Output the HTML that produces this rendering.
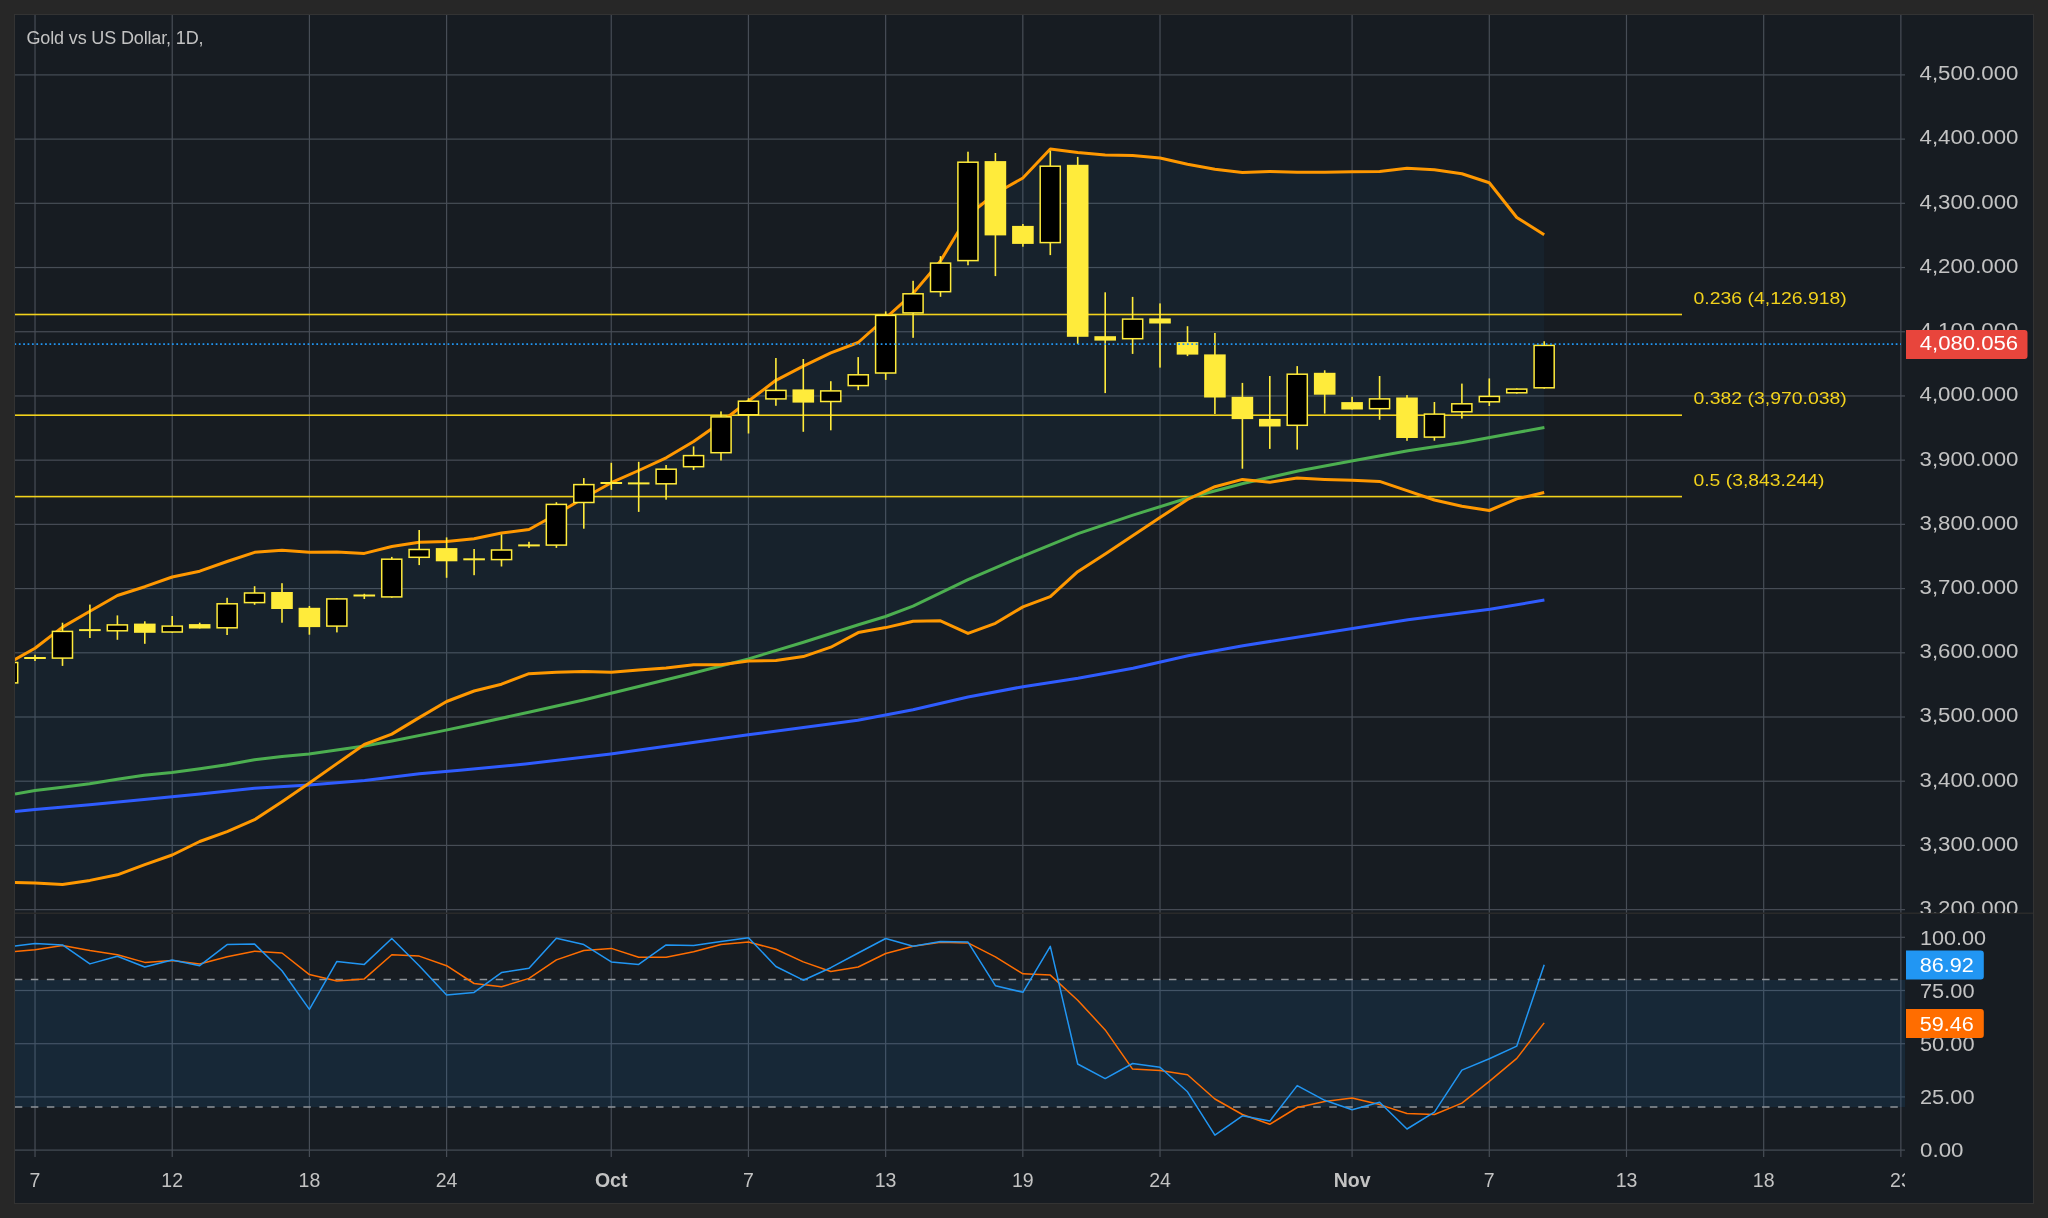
<!DOCTYPE html><html><head><meta charset="utf-8"><title>Gold vs US Dollar</title><style>
html,body{margin:0;padding:0;background:#272727;width:2048px;height:1218px;overflow:hidden}
svg{display:block;will-change:transform}
text{font-family:"Liberation Sans",sans-serif}
</style></head><body>
<svg width="2048" height="1218" viewBox="0 0 2048 1218">
<defs>
<clipPath id="p1"><rect x="15" y="14" width="1886" height="899"/></clipPath>
<clipPath id="p2"><rect x="15" y="914" width="1886" height="236"/></clipPath>
<clipPath id="pax1"><rect x="1901" y="14" width="132" height="899"/></clipPath>
<clipPath id="tax"><rect x="15" y="1150" width="1890" height="53"/></clipPath>
</defs>
<rect x="14" y="14" width="2020" height="1190" fill="#333333"/>
<rect x="15" y="15" width="2018" height="1188" fill="#171c22"/>
<g fill="#474d56">
<rect x="34.42" y="15" width="1.2" height="898"/>
<rect x="34.42" y="914" width="1.2" height="243"/>
<rect x="171.62" y="15" width="1.2" height="898"/>
<rect x="171.62" y="914" width="1.2" height="243"/>
<rect x="308.81" y="15" width="1.2" height="898"/>
<rect x="308.81" y="914" width="1.2" height="243"/>
<rect x="446.00" y="15" width="1.2" height="898"/>
<rect x="446.00" y="914" width="1.2" height="243"/>
<rect x="610.64" y="15" width="1.2" height="898"/>
<rect x="610.64" y="914" width="1.2" height="243"/>
<rect x="747.83" y="15" width="1.2" height="898"/>
<rect x="747.83" y="914" width="1.2" height="243"/>
<rect x="885.03" y="15" width="1.2" height="898"/>
<rect x="885.03" y="914" width="1.2" height="243"/>
<rect x="1022.22" y="15" width="1.2" height="898"/>
<rect x="1022.22" y="914" width="1.2" height="243"/>
<rect x="1159.42" y="15" width="1.2" height="898"/>
<rect x="1159.42" y="914" width="1.2" height="243"/>
<rect x="1351.49" y="15" width="1.2" height="898"/>
<rect x="1351.49" y="914" width="1.2" height="243"/>
<rect x="1488.69" y="15" width="1.2" height="898"/>
<rect x="1488.69" y="914" width="1.2" height="243"/>
<rect x="1625.88" y="15" width="1.2" height="898"/>
<rect x="1625.88" y="914" width="1.2" height="243"/>
<rect x="1763.08" y="15" width="1.2" height="898"/>
<rect x="1763.08" y="914" width="1.2" height="243"/>
<rect x="1900.27" y="15" width="1.2" height="898"/>
<rect x="1900.27" y="914" width="1.2" height="243"/>
<rect x="15" y="74.30" width="1890" height="1.2"/>
<rect x="15" y="138.51" width="1890" height="1.2"/>
<rect x="15" y="202.72" width="1890" height="1.2"/>
<rect x="15" y="266.93" width="1890" height="1.2"/>
<rect x="15" y="331.14" width="1890" height="1.2"/>
<rect x="15" y="395.35" width="1890" height="1.2"/>
<rect x="15" y="459.56" width="1890" height="1.2"/>
<rect x="15" y="523.77" width="1890" height="1.2"/>
<rect x="15" y="587.98" width="1890" height="1.2"/>
<rect x="15" y="652.19" width="1890" height="1.2"/>
<rect x="15" y="716.40" width="1890" height="1.2"/>
<rect x="15" y="780.61" width="1890" height="1.2"/>
<rect x="15" y="844.82" width="1890" height="1.2"/>
<rect x="15" y="909.03" width="1890" height="1.2"/>
<rect x="15" y="936.70" width="1890" height="1.2"/>
<rect x="15" y="989.90" width="1890" height="1.2"/>
<rect x="15" y="1043.10" width="1890" height="1.2"/>
<rect x="15" y="1096.30" width="1890" height="1.2"/>
<rect x="15" y="1149.50" width="1890" height="1.2"/>
</g>
<g clip-path="url(#p1)">
<polygon points="7.6,663.8 35.0,648.2 62.5,627.1 89.9,611.3 117.4,595.5 144.8,586.7 172.2,577.0 199.7,571.2 227.1,561.5 254.6,552.3 282.0,550.2 309.4,552.3 336.9,551.9 364.3,553.4 391.8,546.5 419.2,542.2 446.6,541.5 474.1,538.8 501.5,533.0 529.0,529.5 556.4,514.2 583.8,498.0 611.3,482.7 638.7,470.5 666.1,457.8 693.6,441.5 721.0,422.2 748.5,401.0 775.9,380.3 803.3,366.1 830.8,352.9 858.2,342.5 885.7,318.0 913.1,293.4 940.5,261.0 968.0,215.5 995.4,193.5 1022.9,178.0 1050.3,149.0 1077.7,152.5 1105.2,155.0 1132.6,155.5 1160.0,158.0 1187.5,164.2 1214.9,169.3 1242.4,172.4 1269.8,171.4 1297.2,172.2 1324.7,172.2 1352.1,171.8 1379.6,171.4 1407.0,168.3 1434.4,169.7 1461.9,173.8 1489.3,182.7 1516.8,217.5 1544.2,234.7 1544.2,492.5 1516.8,498.9 1489.3,510.5 1461.9,506.3 1434.4,500.0 1407.0,490.6 1379.6,481.4 1352.1,480.3 1324.7,479.4 1297.2,478.1 1269.8,482.3 1242.4,479.4 1214.9,486.7 1187.5,499.5 1160.0,517.6 1132.6,535.8 1105.2,553.9 1077.7,571.7 1050.3,596.6 1022.9,606.9 995.4,623.3 968.0,633.4 940.5,620.8 913.1,621.2 885.7,627.6 858.2,632.6 830.8,647.2 803.3,656.6 775.9,660.6 748.5,661.1 721.0,664.7 693.6,664.7 666.1,668.1 638.7,670.1 611.3,672.3 583.8,671.4 556.4,672.3 529.0,673.7 501.5,684.2 474.1,691.0 446.6,701.5 419.2,717.6 391.8,734.1 364.3,744.5 336.9,763.6 309.4,783.1 282.0,801.8 254.6,819.7 227.1,831.6 199.7,841.5 172.2,855.0 144.8,864.7 117.4,874.8 89.9,880.4 62.5,884.4 35.0,883.1 7.6,882.4" fill="rgba(33,150,243,0.05)"/>
</g>
<rect x="15" y="979.9" width="1890" height="127.2" fill="rgba(33,150,243,0.1)"/>
<g clip-path="url(#p1)">
<rect x="15" y="313.7" width="1667" height="1.6" fill="#f2d21c"/>
<rect x="15" y="414.4" width="1667" height="1.6" fill="#f2d21c"/>
<rect x="15" y="495.8" width="1667" height="1.6" fill="#f2d21c"/>
<polyline points="15.0,811.4 35.0,809.6 89.6,804.7 144.0,799.5 200.0,793.9 254.5,788.3 309.0,784.9 364.6,780.4 419.4,773.7 460.0,770.3 525.4,764.0 610.7,753.9 748.2,734.8 857.8,720.2 900.0,712.3 913.0,709.8 968.0,697.0 1023.0,686.7 1078.0,678.2 1133.0,668.2 1188.0,655.8 1243.0,645.7 1408.0,619.7 1490.0,609.2 1544.4,600.1" fill="none" stroke="#2f5cff" stroke-width="3" stroke-linejoin="round"/>
<polyline points="15.0,793.9 35.0,790.5 62.4,787.2 89.6,783.8 117.4,779.3 144.1,775.3 171.9,772.6 199.9,768.8 226.8,764.7 254.5,759.8 282.0,756.4 309.0,753.9 336.8,750.1 364.6,746.1 391.9,741.1 440.0,731.4 474.0,724.2 528.7,712.3 583.5,700.0 638.7,686.5 693.6,673.0 748.5,658.9 803.5,642.2 858.4,624.7 885.5,616.5 913.0,606.2 968.0,579.6 1023.0,556.1 1078.0,533.7 1133.0,515.1 1188.0,498.0 1243.0,483.5 1298.0,471.0 1353.0,460.7 1408.0,450.7 1462.5,442.4 1517.0,432.5 1544.4,427.5" fill="none" stroke="#4caf50" stroke-width="3" stroke-linejoin="round"/>
<polyline points="7.6,663.8 35.0,648.2 62.5,627.1 89.9,611.3 117.4,595.5 144.8,586.7 172.2,577.0 199.7,571.2 227.1,561.5 254.6,552.3 282.0,550.2 309.4,552.3 336.9,551.9 364.3,553.4 391.8,546.5 419.2,542.2 446.6,541.5 474.1,538.8 501.5,533.0 529.0,529.5 556.4,514.2 583.8,498.0 611.3,482.7 638.7,470.5 666.1,457.8 693.6,441.5 721.0,422.2 748.5,401.0 775.9,380.3 803.3,366.1 830.8,352.9 858.2,342.5 885.7,318.0 913.1,293.4 940.5,261.0 968.0,215.5 995.4,193.5 1022.9,178.0 1050.3,149.0 1077.7,152.5 1105.2,155.0 1132.6,155.5 1160.0,158.0 1187.5,164.2 1214.9,169.3 1242.4,172.4 1269.8,171.4 1297.2,172.2 1324.7,172.2 1352.1,171.8 1379.6,171.4 1407.0,168.3 1434.4,169.7 1461.9,173.8 1489.3,182.7 1516.8,217.5 1544.2,234.7" fill="none" stroke="#ff9800" stroke-width="3" stroke-linejoin="round"/>
<polyline points="7.6,882.4 35.0,883.1 62.5,884.4 89.9,880.4 117.4,874.8 144.8,864.7 172.2,855.0 199.7,841.5 227.1,831.6 254.6,819.7 282.0,801.8 309.4,783.1 336.9,763.6 364.3,744.5 391.8,734.1 419.2,717.6 446.6,701.5 474.1,691.0 501.5,684.2 529.0,673.7 556.4,672.3 583.8,671.4 611.3,672.3 638.7,670.1 666.1,668.1 693.6,664.7 721.0,664.7 748.5,661.1 775.9,660.6 803.3,656.6 830.8,647.2 858.2,632.6 885.7,627.6 913.1,621.2 940.5,620.8 968.0,633.4 995.4,623.3 1022.9,606.9 1050.3,596.6 1077.7,571.7 1105.2,553.9 1132.6,535.8 1160.0,517.6 1187.5,499.5 1214.9,486.7 1242.4,479.4 1269.8,482.3 1297.2,478.1 1324.7,479.4 1352.1,480.3 1379.6,481.4 1407.0,490.6 1434.4,500.0 1461.9,506.3 1489.3,510.5 1516.8,498.9 1544.2,492.5" fill="none" stroke="#ff9800" stroke-width="3" stroke-linejoin="round"/>
<rect x="6.8" y="661.7" width="1.6" height="21.9" fill="#ffeb3b"/>
<rect x="-2.4" y="662.5" width="20.1" height="20.4" fill="#000" stroke="#ffeb3b" stroke-width="1.5"/>
<rect x="34.2" y="654.8" width="1.6" height="6.2" fill="#ffeb3b"/>
<rect x="24.2" y="657.0" width="21.6" height="2" fill="#ffeb3b"/>
<rect x="61.7" y="622.7" width="1.6" height="43.2" fill="#ffeb3b"/>
<rect x="52.4" y="631.4" width="20.1" height="26.7" fill="#000" stroke="#ffeb3b" stroke-width="1.5"/>
<rect x="89.1" y="604.6" width="1.6" height="33.4" fill="#ffeb3b"/>
<rect x="79.1" y="629.1" width="21.6" height="2" fill="#ffeb3b"/>
<rect x="116.6" y="615.4" width="1.6" height="24.4" fill="#ffeb3b"/>
<rect x="107.3" y="624.9" width="20.1" height="5.9" fill="#000" stroke="#ffeb3b" stroke-width="1.5"/>
<rect x="144.0" y="621.3" width="1.6" height="22.5" fill="#ffeb3b"/>
<rect x="134.0" y="623.6" width="21.6" height="9.2" fill="#ffeb3b"/>
<rect x="171.4" y="616.0" width="1.6" height="16.8" fill="#ffeb3b"/>
<rect x="162.2" y="626.1" width="20.1" height="5.9" fill="#000" stroke="#ffeb3b" stroke-width="1.5"/>
<rect x="198.9" y="622.7" width="1.6" height="5.8" fill="#ffeb3b"/>
<rect x="188.9" y="624.1" width="21.6" height="4.4" fill="#ffeb3b"/>
<rect x="226.3" y="597.8" width="1.6" height="37.2" fill="#ffeb3b"/>
<rect x="217.1" y="603.8" width="20.1" height="24.0" fill="#000" stroke="#ffeb3b" stroke-width="1.5"/>
<rect x="253.8" y="586.2" width="1.6" height="18.6" fill="#ffeb3b"/>
<rect x="244.5" y="593.0" width="20.1" height="9.6" fill="#000" stroke="#ffeb3b" stroke-width="1.5"/>
<rect x="281.2" y="583.2" width="1.6" height="39.5" fill="#ffeb3b"/>
<rect x="271.2" y="592.0" width="21.6" height="17.0" fill="#ffeb3b"/>
<rect x="308.6" y="606.0" width="1.6" height="28.7" fill="#ffeb3b"/>
<rect x="298.6" y="607.8" width="21.6" height="19.3" fill="#ffeb3b"/>
<rect x="336.1" y="598.1" width="1.6" height="34.3" fill="#ffeb3b"/>
<rect x="326.8" y="598.9" width="20.1" height="27.2" fill="#000" stroke="#ffeb3b" stroke-width="1.5"/>
<rect x="363.5" y="593.8" width="1.6" height="5.2" fill="#ffeb3b"/>
<rect x="353.5" y="594.5" width="21.6" height="2" fill="#ffeb3b"/>
<rect x="391.0" y="556.9" width="1.6" height="40.8" fill="#ffeb3b"/>
<rect x="381.7" y="559.2" width="20.1" height="37.7" fill="#000" stroke="#ffeb3b" stroke-width="1.5"/>
<rect x="418.4" y="530.0" width="1.6" height="35.1" fill="#ffeb3b"/>
<rect x="409.1" y="549.5" width="20.1" height="7.8" fill="#000" stroke="#ffeb3b" stroke-width="1.5"/>
<rect x="445.8" y="537.4" width="1.6" height="40.4" fill="#ffeb3b"/>
<rect x="435.8" y="548.1" width="21.6" height="13.2" fill="#ffeb3b"/>
<rect x="473.3" y="549.0" width="1.6" height="26.2" fill="#ffeb3b"/>
<rect x="463.3" y="558.3" width="21.6" height="2" fill="#ffeb3b"/>
<rect x="500.7" y="534.4" width="1.6" height="32.1" fill="#ffeb3b"/>
<rect x="491.5" y="550.0" width="20.1" height="9.6" fill="#000" stroke="#ffeb3b" stroke-width="1.5"/>
<rect x="528.2" y="541.8" width="1.6" height="6.1" fill="#ffeb3b"/>
<rect x="518.2" y="544.4" width="21.6" height="2" fill="#ffeb3b"/>
<rect x="555.6" y="502.2" width="1.6" height="45.7" fill="#ffeb3b"/>
<rect x="546.3" y="504.4" width="20.1" height="40.7" fill="#000" stroke="#ffeb3b" stroke-width="1.5"/>
<rect x="583.0" y="478.1" width="1.6" height="50.6" fill="#ffeb3b"/>
<rect x="573.8" y="484.6" width="20.1" height="17.9" fill="#000" stroke="#ffeb3b" stroke-width="1.5"/>
<rect x="610.5" y="462.8" width="1.6" height="27.1" fill="#ffeb3b"/>
<rect x="600.5" y="482.0" width="21.6" height="2" fill="#ffeb3b"/>
<rect x="637.9" y="461.8" width="1.6" height="50.1" fill="#ffeb3b"/>
<rect x="627.9" y="482.4" width="21.6" height="2" fill="#ffeb3b"/>
<rect x="665.3" y="465.0" width="1.6" height="34.7" fill="#ffeb3b"/>
<rect x="656.1" y="469.2" width="20.1" height="14.6" fill="#000" stroke="#ffeb3b" stroke-width="1.5"/>
<rect x="692.8" y="446.4" width="1.6" height="23.6" fill="#ffeb3b"/>
<rect x="683.5" y="455.6" width="20.1" height="11.1" fill="#000" stroke="#ffeb3b" stroke-width="1.5"/>
<rect x="720.2" y="411.4" width="1.6" height="49.1" fill="#ffeb3b"/>
<rect x="711.0" y="416.9" width="20.1" height="35.8" fill="#000" stroke="#ffeb3b" stroke-width="1.5"/>
<rect x="747.7" y="398.2" width="1.6" height="35.3" fill="#ffeb3b"/>
<rect x="738.4" y="401.2" width="20.1" height="13.6" fill="#000" stroke="#ffeb3b" stroke-width="1.5"/>
<rect x="775.1" y="358.0" width="1.6" height="47.8" fill="#ffeb3b"/>
<rect x="765.9" y="390.4" width="20.1" height="8.5" fill="#000" stroke="#ffeb3b" stroke-width="1.5"/>
<rect x="802.5" y="359.0" width="1.6" height="72.8" fill="#ffeb3b"/>
<rect x="792.5" y="389.4" width="21.6" height="13.2" fill="#ffeb3b"/>
<rect x="830.0" y="381.2" width="1.6" height="49.1" fill="#ffeb3b"/>
<rect x="820.7" y="390.9" width="20.1" height="10.6" fill="#000" stroke="#ffeb3b" stroke-width="1.5"/>
<rect x="857.4" y="357.1" width="1.6" height="33.0" fill="#ffeb3b"/>
<rect x="848.2" y="374.8" width="20.1" height="10.8" fill="#000" stroke="#ffeb3b" stroke-width="1.5"/>
<rect x="884.9" y="311.4" width="1.6" height="68.5" fill="#ffeb3b"/>
<rect x="875.6" y="315.4" width="20.1" height="57.6" fill="#000" stroke="#ffeb3b" stroke-width="1.5"/>
<rect x="912.3" y="280.8" width="1.6" height="57.0" fill="#ffeb3b"/>
<rect x="903.0" y="293.8" width="20.1" height="19.1" fill="#000" stroke="#ffeb3b" stroke-width="1.5"/>
<rect x="939.7" y="256.1" width="1.6" height="40.7" fill="#ffeb3b"/>
<rect x="930.5" y="263.1" width="20.1" height="28.6" fill="#000" stroke="#ffeb3b" stroke-width="1.5"/>
<rect x="967.2" y="151.7" width="1.6" height="113.6" fill="#ffeb3b"/>
<rect x="957.9" y="162.2" width="20.1" height="98.4" fill="#000" stroke="#ffeb3b" stroke-width="1.5"/>
<rect x="994.6" y="153.0" width="1.6" height="123.1" fill="#ffeb3b"/>
<rect x="984.6" y="161.1" width="21.6" height="74.3" fill="#ffeb3b"/>
<rect x="1022.1" y="224.0" width="1.6" height="22.7" fill="#ffeb3b"/>
<rect x="1012.1" y="225.9" width="21.6" height="18.0" fill="#ffeb3b"/>
<rect x="1049.5" y="150.8" width="1.6" height="104.3" fill="#ffeb3b"/>
<rect x="1040.2" y="166.2" width="20.1" height="76.4" fill="#000" stroke="#ffeb3b" stroke-width="1.5"/>
<rect x="1076.9" y="156.9" width="1.6" height="187.0" fill="#ffeb3b"/>
<rect x="1066.9" y="164.8" width="21.6" height="172.0" fill="#ffeb3b"/>
<rect x="1104.4" y="292.3" width="1.6" height="100.8" fill="#ffeb3b"/>
<rect x="1094.4" y="336.2" width="21.6" height="4.4" fill="#ffeb3b"/>
<rect x="1131.8" y="296.9" width="1.6" height="57.0" fill="#ffeb3b"/>
<rect x="1122.6" y="319.1" width="20.1" height="19.6" fill="#000" stroke="#ffeb3b" stroke-width="1.5"/>
<rect x="1159.2" y="303.4" width="1.6" height="64.2" fill="#ffeb3b"/>
<rect x="1149.2" y="318.4" width="21.6" height="5.1" fill="#ffeb3b"/>
<rect x="1186.7" y="326.2" width="1.6" height="29.9" fill="#ffeb3b"/>
<rect x="1176.7" y="342.1" width="21.6" height="12.5" fill="#ffeb3b"/>
<rect x="1214.1" y="333.0" width="1.6" height="81.0" fill="#ffeb3b"/>
<rect x="1204.1" y="354.4" width="21.6" height="43.1" fill="#ffeb3b"/>
<rect x="1241.6" y="382.9" width="1.6" height="85.8" fill="#ffeb3b"/>
<rect x="1231.6" y="396.8" width="21.6" height="22.3" fill="#ffeb3b"/>
<rect x="1269.0" y="376.0" width="1.6" height="72.9" fill="#ffeb3b"/>
<rect x="1259.0" y="418.9" width="21.6" height="7.6" fill="#ffeb3b"/>
<rect x="1296.4" y="366.1" width="1.6" height="83.5" fill="#ffeb3b"/>
<rect x="1287.2" y="374.2" width="20.1" height="51.1" fill="#000" stroke="#ffeb3b" stroke-width="1.5"/>
<rect x="1323.9" y="370.3" width="1.6" height="43.3" fill="#ffeb3b"/>
<rect x="1313.9" y="372.8" width="21.6" height="21.9" fill="#ffeb3b"/>
<rect x="1351.3" y="396.8" width="1.6" height="12.7" fill="#ffeb3b"/>
<rect x="1341.3" y="402.1" width="21.6" height="7.4" fill="#ffeb3b"/>
<rect x="1378.8" y="376.0" width="1.6" height="43.8" fill="#ffeb3b"/>
<rect x="1369.5" y="398.9" width="20.1" height="9.8" fill="#000" stroke="#ffeb3b" stroke-width="1.5"/>
<rect x="1406.2" y="395.1" width="1.6" height="45.7" fill="#ffeb3b"/>
<rect x="1396.2" y="397.5" width="21.6" height="40.5" fill="#ffeb3b"/>
<rect x="1433.6" y="402.0" width="1.6" height="38.7" fill="#ffeb3b"/>
<rect x="1424.4" y="414.1" width="20.1" height="23.0" fill="#000" stroke="#ffeb3b" stroke-width="1.5"/>
<rect x="1461.1" y="383.6" width="1.6" height="35.0" fill="#ffeb3b"/>
<rect x="1451.8" y="403.8" width="20.1" height="8.0" fill="#000" stroke="#ffeb3b" stroke-width="1.5"/>
<rect x="1488.5" y="378.4" width="1.6" height="27.6" fill="#ffeb3b"/>
<rect x="1479.3" y="396.4" width="20.1" height="5.4" fill="#000" stroke="#ffeb3b" stroke-width="1.5"/>
<rect x="1516.0" y="388.4" width="1.6" height="5.2" fill="#ffeb3b"/>
<rect x="1506.7" y="389.1" width="20.1" height="3.7" fill="#000" stroke="#ffeb3b" stroke-width="1.5"/>
<rect x="1543.4" y="341.3" width="1.6" height="47.3" fill="#ffeb3b"/>
<rect x="1534.1" y="345.4" width="20.1" height="42.4" fill="#000" stroke="#ffeb3b" stroke-width="1.5"/>
<line x1="14.45" y1="344.1" x2="1901" y2="344.1" stroke="#2196f3" stroke-width="1.6" stroke-dasharray="1.75 2.625"/>
</g>
<g fill="#f2d21c" font-size="17">
<text x="1693.5" y="303.5" textLength="153.3" lengthAdjust="spacingAndGlyphs">0.236 (4,126.918)</text>
<text x="1693.5" y="404.2" textLength="153.3" lengthAdjust="spacingAndGlyphs">0.382 (3,970.038)</text>
<text x="1693.5" y="485.6" textLength="131.0" lengthAdjust="spacingAndGlyphs">0.5 (3,843.244)</text>
</g>
<text x="26.5" y="43.7" font-size="18" fill="#c3c3c3" textLength="177" lengthAdjust="spacing">Gold vs US Dollar, 1D,</text>
<g clip-path="url(#p2)">
<line x1="14.8" y1="979.5" x2="1901" y2="979.5" stroke="#8f9399" stroke-width="1.4" stroke-dasharray="7.5 8.53"/>
<line x1="14.8" y1="1107" x2="1901" y2="1107" stroke="#8f9399" stroke-width="1.4" stroke-dasharray="7.5 8.53"/>
<polyline points="7.6,952.2 35.0,949.7 62.5,945.4 89.9,950.5 117.4,954.8 144.8,962.4 172.2,960.6 199.7,963.9 227.1,956.8 254.6,951.2 282.0,953.0 309.4,974.6 336.9,980.9 364.3,978.9 391.8,954.8 419.2,956.1 446.6,965.7 474.1,983.5 501.5,986.8 529.0,978.4 556.4,959.9 583.8,950.5 611.3,948.4 638.7,957.3 666.1,957.3 693.6,951.7 721.0,944.6 748.5,942.1 775.9,949.2 803.3,961.9 830.8,971.5 858.2,967.0 885.7,953.5 913.1,946.2 940.5,942.3 968.0,942.9 995.4,956.8 1022.9,973.8 1050.3,975.1 1077.7,1000.2 1105.2,1029.9 1132.6,1069.1 1160.0,1070.5 1187.5,1074.8 1214.9,1099.0 1242.4,1114.5 1269.8,1124.3 1297.2,1107.5 1324.7,1101.6 1352.1,1098.0 1379.6,1104.6 1407.0,1113.5 1434.4,1114.5 1461.9,1103.1 1489.3,1081.4 1516.8,1058.4 1544.2,1022.9" fill="none" stroke="#ff6d00" stroke-width="1.5" stroke-linejoin="round"/>
<polyline points="7.6,946.8 35.0,943.6 62.5,944.9 89.9,963.9 117.4,956.3 144.8,967.0 172.2,959.9 199.7,965.7 227.1,944.6 254.6,944.1 282.0,970.8 309.4,1009.4 336.9,961.4 364.3,964.4 391.8,938.5 419.2,965.7 446.6,994.9 474.1,992.4 501.5,972.6 529.0,968.2 556.4,938.3 583.8,944.6 611.3,961.9 638.7,964.4 666.1,944.9 693.6,945.4 721.0,941.6 748.5,937.8 775.9,966.5 803.3,980.2 830.8,967.7 858.2,953.0 885.7,938.5 913.1,946.2 940.5,941.6 968.0,942.1 995.4,985.7 1022.9,992.3 1050.3,946.4 1077.7,1064.0 1105.2,1078.6 1132.6,1063.5 1160.0,1067.3 1187.5,1091.8 1214.9,1135.2 1242.4,1115.8 1269.8,1121.1 1297.2,1085.6 1324.7,1100.3 1352.1,1109.7 1379.6,1102.2 1407.0,1129.0 1434.4,1112.2 1461.9,1070.1 1489.3,1058.8 1516.8,1046.1 1544.2,964.7" fill="none" stroke="#2196f3" stroke-width="1.5" stroke-linejoin="round"/>
</g>
<rect x="15" y="912.5" width="2018" height="1.5" fill="#2a2a2a"/>
<g clip-path="url(#pax1)" fill="#c3c3c3" font-size="20">
<text x="1919.5" y="80.2" textLength="99" lengthAdjust="spacingAndGlyphs">4,500.000</text>
<text x="1919.5" y="144.4" textLength="99" lengthAdjust="spacingAndGlyphs">4,400.000</text>
<text x="1919.5" y="208.6" textLength="99" lengthAdjust="spacingAndGlyphs">4,300.000</text>
<text x="1919.5" y="272.8" textLength="99" lengthAdjust="spacingAndGlyphs">4,200.000</text>
<text x="1919.5" y="337.0" textLength="99" lengthAdjust="spacingAndGlyphs">4,100.000</text>
<text x="1919.5" y="401.2" textLength="99" lengthAdjust="spacingAndGlyphs">4,000.000</text>
<text x="1919.5" y="465.5" textLength="99" lengthAdjust="spacingAndGlyphs">3,900.000</text>
<text x="1919.5" y="529.7" textLength="99" lengthAdjust="spacingAndGlyphs">3,800.000</text>
<text x="1919.5" y="593.9" textLength="99" lengthAdjust="spacingAndGlyphs">3,700.000</text>
<text x="1919.5" y="658.1" textLength="99" lengthAdjust="spacingAndGlyphs">3,600.000</text>
<text x="1919.5" y="722.3" textLength="99" lengthAdjust="spacingAndGlyphs">3,500.000</text>
<text x="1919.5" y="786.5" textLength="99" lengthAdjust="spacingAndGlyphs">3,400.000</text>
<text x="1919.5" y="850.7" textLength="99" lengthAdjust="spacingAndGlyphs">3,300.000</text>
<text x="1919.5" y="914.9" textLength="99" lengthAdjust="spacingAndGlyphs">3,200.000</text>
</g>
<path d="M1906,330 H2024.5 a3,3 0 0 1 3,3 V356 a3,3 0 0 1 -3,3 H1906 Z" fill="#e8453c"/>
<text x="1919.7" y="349.8" font-size="20" fill="#ffffff" textLength="98.5" lengthAdjust="spacingAndGlyphs">4,080.056</text>
<g fill="#c3c3c3" font-size="20">
<text x="1920" y="944.5" textLength="66.0" lengthAdjust="spacingAndGlyphs">100.00</text>
<text x="1920" y="997.7" textLength="54.5" lengthAdjust="spacingAndGlyphs">75.00</text>
<text x="1920" y="1050.9" textLength="54.5" lengthAdjust="spacingAndGlyphs">50.00</text>
<text x="1920" y="1104.1" textLength="54.5" lengthAdjust="spacingAndGlyphs">25.00</text>
<text x="1920" y="1157.3" textLength="43.5" lengthAdjust="spacingAndGlyphs">0.00</text>
</g>
<path d="M1906,950.4 H1980.8 a3,3 0 0 1 3,3 V976.5 a3,3 0 0 1 -3,3 H1906 Z" fill="#2196f3"/>
<text x="1919.7" y="972.1" font-size="20" fill="#ffffff" textLength="54.2" lengthAdjust="spacingAndGlyphs">86.92</text>
<path d="M1906,1009 H1980.8 a3,3 0 0 1 3,3 V1035 a3,3 0 0 1 -3,3 H1906 Z" fill="#ff6d00"/>
<text x="1919.7" y="1030.7" font-size="20" fill="#ffffff" textLength="54.2" lengthAdjust="spacingAndGlyphs">59.46</text>
<g clip-path="url(#tax)" fill="#c3c3c3" font-size="19.5" text-anchor="middle">
<text x="35.0" y="1187.2">7</text>
<text x="172.2" y="1187.2">12</text>
<text x="309.4" y="1187.2">18</text>
<text x="446.6" y="1187.2">24</text>
<text x="611.2" y="1187.2" font-weight="bold">Oct</text>
<text x="748.4" y="1187.2">7</text>
<text x="885.6" y="1187.2">13</text>
<text x="1022.8" y="1187.2">19</text>
<text x="1160.0" y="1187.2">24</text>
<text x="1352.1" y="1187.2" font-weight="bold">Nov</text>
<text x="1489.3" y="1187.2">7</text>
<text x="1626.5" y="1187.2">13</text>
<text x="1763.7" y="1187.2">18</text>
<text x="1900.9" y="1187.2">23</text>
</g>
</svg></body></html>
